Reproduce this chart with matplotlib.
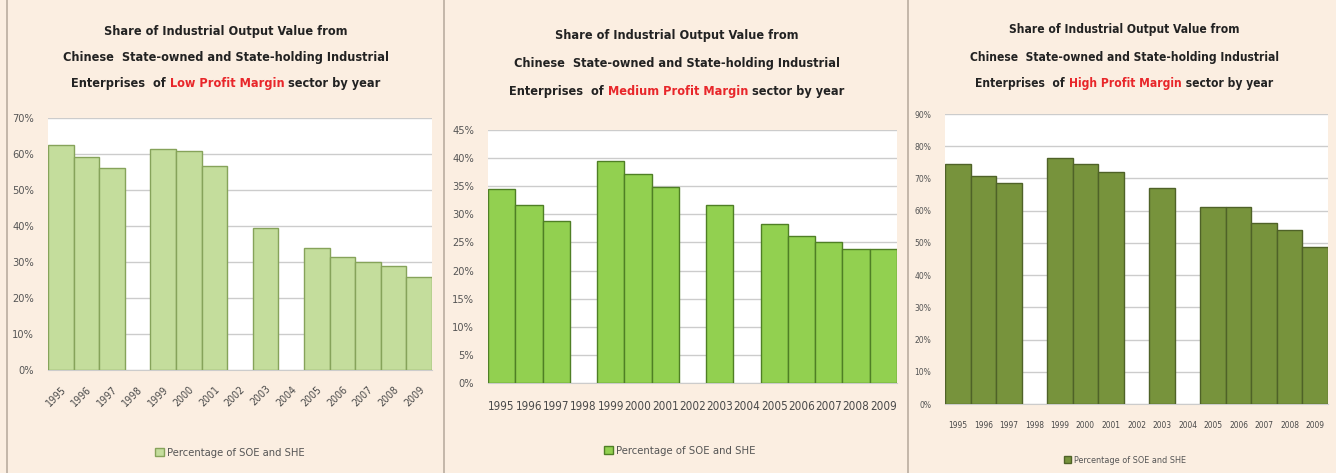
import numpy as np
import matplotlib
matplotlib.use("Agg")
import matplotlib.pyplot as plt
from matplotlib.patches import Patch
from matplotlib.ticker import PercentFormatter

years = ["1995", "1996", "1997", "1998", "1999", "2000", "2001", "2002",
         "2003", "2004", "2005", "2006", "2007", "2008", "2009"]
nan = np.nan
low_share = [62.6, 59.2, 56.1, nan, 61.4, 60.7, 56.6, nan, 39.4, nan,
             34.0, 31.5, 29.9, 28.9, 25.7]
medium_share = [34.5, 31.6, 28.8, nan, 39.5, 37.1, 34.9, nan, 31.6, nan,
                28.3, 26.2, 25.0, 23.8, 23.8]
high_share = [74.5, 70.7, 68.7, nan, 76.5, 74.5, 71.9, nan, 67.0, nan,
              61.1, 61.1, 56.2, 53.9, 48.6]
sector_names = ["Low Profit Margin", "Medium Profit Margin", "High Profit Margin"]
legend_label = "Percentage of SOE and SHE"

BG = "#fbeee1"
W, H = 1336, 473
fig = plt.figure(figsize=(W / 100, H / 100), dpi=100, facecolor=BG)
fig.canvas.draw()
R = fig.canvas.get_renderer()

FONT = ["Liberation Sans Narrow", "DejaVu Sans"]
STRETCH = "condensed"


def fit_size(text, target_px, weight="normal"):
    t = fig.text(0, 0, text, fontsize=10, family=FONT, fontweight=weight,
                 fontstretch=STRETCH)
    w = t.get_window_extent(R).width
    t.remove()
    return 10 * target_px / w


panels = [
    dict(data=low_share, fill="#c4dd9c", edge="#86a35a", rect=(48, 118, 432, 370),
         ymax=70, step=10, rot=45, tick_w=24, title_cx=226, title_y=[31, 57, 83],
         title_w=322, leg_y=453, leg_cx=230, leg_w=138, ytick_w=22),
    dict(data=medium_share, fill="#92d050", edge="#4f7f25", rect=(488, 130, 897, 383),
         ymax=45, step=5, rot=0, tick_w=26.5, title_cx=677, title_y=[35, 63, 92],
         title_w=322, leg_y=451, leg_cx=680, leg_w=140, ytick_w=22),
    dict(data=high_share, fill="#77933c", edge="#4f6228", rect=(945, 114, 1328, 404),
         ymax=90, step=10, rot=0, tick_w=19, title_cx=1124, title_y=[29, 57, 83],
         title_w=306, leg_y=460, leg_cx=1125, leg_w=112, ytick_w=17),
]

x = np.arange(len(years))
for p, name in zip(panels, sector_names):
    x0, y0, x1, y1 = p["rect"]
    ax = fig.add_axes([x0 / W, 1 - y1 / H, (x1 - x0) / W, (y1 - y0) / H])
    ax.set_facecolor("white")
    vals = np.array(p["data"], dtype=float)
    ax.bar(x, vals, width=1.0, color=p["fill"], edgecolor=p["edge"], linewidth=1.0,
           zorder=3)
    ax.set_xlim(-0.5, len(years) - 0.5)
    ax.set_ylim(0, p["ymax"])
    ax.set_yticks(np.arange(0, p["ymax"] + 0.1, p["step"]))
    ax.yaxis.set_major_formatter(PercentFormatter(decimals=0))
    ax.grid(axis="y", color="#cccccc", linewidth=1.0, zorder=0)
    ax.set_xticks(x)
    tfs = fit_size("1995", p["tick_w"])
    if p["rot"]:
        ax.set_xticklabels(years, rotation=45, ha="right", rotation_mode="anchor",
                           fontsize=tfs, color="#4a4a4a", family=FONT,
                           fontstretch=STRETCH)
    else:
        ax.set_xticklabels(years, fontsize=tfs, color="#4a4a4a", family=FONT,
                           fontstretch=STRETCH)
    yfs = fit_size("70%", p["ytick_w"])
    for lab in ax.get_yticklabels():
        lab.set_fontsize(yfs)
        lab.set_color("#555555")
        lab.set_family(FONT)
        lab.set_fontstretch(STRETCH)
    ax.tick_params(axis="y", length=0, pad=10)
    ax.tick_params(axis="x", length=0, pad=10 if p["rot"] else 12)
    for s in ["left", "right", "top"]:
        ax.spines[s].set_visible(False)
    ax.spines["bottom"].set_color("#cccccc")

    # Title (three lines, third line with red sector name)
    fs = fit_size("Chinese  State-owned and State-holding Industrial", p["title_w"], "bold")
    tkw = dict(fontsize=fs, fontweight="bold", family=FONT, fontstretch=STRETCH,
               va="center")
    fig.text(p["title_cx"] / W, 1 - p["title_y"][0] / H,
             "Share of Industrial Output Value from", ha="center", color="#222222", **tkw)
    fig.text(p["title_cx"] / W, 1 - p["title_y"][1] / H,
             "Chinese  State-owned and State-holding Industrial", ha="center",
             color="#222222", **tkw)
    parts = [("Enterprises  of ", "#222222"), (name, "#e8262a"), (" sector by year", "#222222")]
    widths, tmp = [], []
    for s, c in parts:
        t = fig.text(0, 0, s, ha="left", color=c, **tkw)
        widths.append(t.get_window_extent(R).width)
        tmp.append(t)
    cur = p["title_cx"] - sum(widths) / 2
    for t, w_ in zip(tmp, widths):
        t.set_position((cur / W, 1 - p["title_y"][2] / H))
        cur += w_

    lfs = fit_size(legend_label, p["leg_w"])
    handle = Patch(facecolor=p["fill"], edgecolor=p["edge"])
    fig.legend([handle], [legend_label], loc="center",
               bbox_to_anchor=(p["leg_cx"] / W, 1 - p["leg_y"] / H),
               frameon=False,
               prop={"family": FONT, "size": lfs, "stretch": STRETCH},
               labelcolor="#555555", handlelength=0.8, handleheight=0.8,
               handletextpad=0.3)

# panel separators
for sx in [7, 444, 908]:
    fig.add_artist(plt.Line2D([sx / W, sx / W], [0, 1], color="#b9ad9f", linewidth=1.2))

fig.savefig("out.png", dpi=100, facecolor=BG)
